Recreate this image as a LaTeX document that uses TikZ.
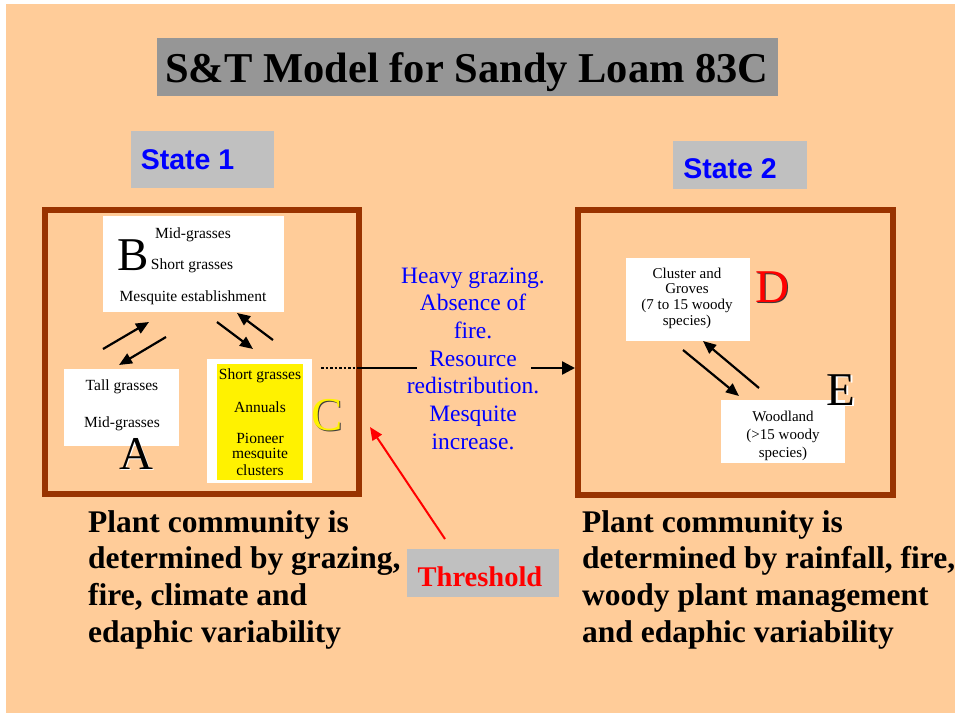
\documentclass[tikz,border=0pt]{standalone}
\usepackage{fontspec}
\setmainfont{Liberation Serif}
\newfontfamily\arialf{Liberation Sans}
\usetikzlibrary{arrows.meta}
\definecolor{peach}{RGB}{255,204,153}
\definecolor{framebrown}{RGB}{153,51,0}
\definecolor{titlegray}{RGB}{150,150,150}
\definecolor{boxgray}{RGB}{192,192,192}
\definecolor{shadowgray}{RGB}{60,60,60}
\newcommand{\myfs}[1]{\fontsize{#1}{#1}\selectfont}
\begin{document}
\begin{tikzpicture}[x=1pt,y=-1pt,
  txt/.style={inner sep=0pt, anchor=base},
  txtl/.style={inner sep=0pt, anchor=base west},
  wbox/.style={fill=white, inner sep=0pt},
  gbox/.style={fill=boxgray, inner sep=0pt},
  frm/.style={draw=framebrown, line width=6pt, inner sep=0pt},
  arr/.style={line width=2.2pt, -{Triangle[length=13pt,width=11pt]}},
  small/.style={font=\myfs{15.5}},
  smaller/.style={font=\myfs{15}},
  big/.style={font=\myfs{47}},
  blu/.style={font=\myfs{23.5}, text=blue},
  bottom/.style={font=\myfs{31.5}\bfseries},
]
\useasboundingbox (0,0) rectangle (955,713);
\fill[white] (0,0) rectangle (955,713);
\fill[peach] (6,4) rectangle (955,713);

% title
\node[fill=titlegray, minimum width=621pt, minimum height=58pt, inner sep=0pt] (titlebox) at (467.5,67) {};
\node[txt, font=\myfs{42.5}\bfseries] (title) at (467,82) {S\&T Model for Sandy Loam 83C};

% state labels
\node[gbox, minimum width=143pt, minimum height=57pt] (s1box) at (202.5,159.5) {};
\node[txt, font=\arialf\bfseries\myfs{28.5}, text=blue] (s1) at (187.5,169) {State 1};
\node[gbox, minimum width=134pt, minimum height=48pt] (s2box) at (740,165) {};
\node[txt, font=\arialf\bfseries\myfs{28.5}, text=blue] (s2) at (730,178) {State 2};

% frames
\node[frm, minimum width=314pt, minimum height=284pt] (f1) at (202,352) {};
\node[frm, minimum width=315pt, minimum height=285pt] (f2) at (735.5,352.5) {};

% B
\node[wbox, minimum width=181pt, minimum height=96pt] (Bbox) at (193.5,264) {};
\node[txt, small] (B1) at (193,238) {Mid-grasses};
\node[txt, small] (B2) at (192,269) {Short grasses};
\node[txt, small] (B3) at (193,301) {Mesquite establishment};
\node[txt, big] (Bl) at (133,270) {B};

% A
\node[wbox, minimum width=115pt, minimum height=77pt] (Abox) at (121.5,407.5) {};
\node[txt, small] (A1) at (122,390) {Tall grasses};
\node[txt, small] (A2) at (122,427) {Mid-grasses};
\node[txt, big, text=white] (Ash) at (137.5,470) {A};
\node[txt, big] (Al) at (136,469) {A};

% C
\node[wbox, minimum width=105pt, minimum height=124pt] (Cbox) at (259.5,421) {};
\node[fill=yellow, inner sep=0pt, minimum width=86pt, minimum height=114pt] (Cyel) at (260,421) {};
\node[txt, small] (C1) at (260,379) {Short grasses};
\node[txt, small] (C2) at (260,412) {Annuals};
\node[txt, small] (C3) at (260,443) {Pioneer};
\node[txt, small] (C4) at (260,458) {mesquite};
\node[anchor=base, small, fill=yellow, inner xsep=0pt, inner ysep=5pt, minimum width=86pt] (C5) at (260,475) {clusters};
\node[txt, big, text=shadowgray] (Csh) at (328.5,431.5) {C};
\node[txt, big, text=yellow] (Cl) at (327,430) {C};

% D
\node[wbox, minimum width=124pt, minimum height=83pt] (Dbox) at (688,299.5) {};
\node[txt, smaller] (D1) at (687,278) {Cluster and};
\node[txt, smaller] (D2) at (687,293.7) {Groves};
\node[txt, smaller] (D3) at (687,309.3) {(7 to 15 woody};
\node[txt, smaller] (D4) at (687,325) {species)};
\node[txt, big, text=shadowgray] (Dsh) at (773.5,303.5) {D};
\node[txt, big, text=red] (Dl) at (772,302) {D};

% E
\node[wbox, minimum width=124pt, minimum height=63pt] (Ebox) at (783,431.5) {};
\node[txt, smaller] (E1) at (783,421) {Woodland};
\node[txt, smaller] (E2) at (783,439) {(>15 woody};
\node[txt, smaller] (E3) at (783,457) {species)};
\node[txt, big, text=white] (Esh) at (842.5,406) {E};
\node[txt, big] (El) at (841,405) {E};

% transition text
\node[txt, blu] (T1) at (473,283) {Heavy grazing.};
\node[txt, blu] (T2) at (473,310.7) {Absence of};
\node[txt, blu] (T3) at (473,338.4) {fire.};
\node[txt, blu] (T4) at (473,366) {Resource};
\node[txt, blu] (T5) at (473,393.8) {redistribution.};
\node[txt, blu] (T6) at (473,421.5) {Mesquite};
\node[txt, blu] (T7) at (473,449.2) {increase.};

% threshold
\node[gbox, minimum width=152pt, minimum height=48pt] (thbox) at (483,573) {};
\node[txt, font=\myfs{28.5}\bfseries, text=red] (th) at (480,586) {Threshold};

% bottom texts
\node[txtl, bottom] (L1) at (88,532) {Plant community is};
\node[txtl, bottom] (L2) at (88,568.7) {determined by grazing,};
\node[txtl, bottom] (L3) at (88,605.4) {fire, climate and};
\node[txtl, bottom] (L4) at (88,642) {edaphic variability};
\node[txtl, bottom] (R1) at (582,532) {Plant community is};
\node[txtl, bottom] (R2) at (582,568.7) {determined by rainfall, fire,};
\node[txtl, bottom] (R3) at (582,605.4) {woody plant management};
\node[txtl, bottom] (R4) at (582,642) {and edaphic variability};

% connector coordinates
\coordinate (ab0) at (103,349); \coordinate (ab1) at (149,322);
\coordinate (ba0) at (166,337); \coordinate (ba1) at (119,365);
\coordinate (bc0) at (217,322); \coordinate (bc1) at (253,349);
\coordinate (cb0) at (273,340); \coordinate (cb1) at (237,313);
\coordinate (de0) at (683,350); \coordinate (de1) at (739,396);
\coordinate (ed0) at (759,388); \coordinate (ed1) at (703,341);
\coordinate (th0) at (445,539); \coordinate (th1) at (370,427);
\coordinate (m0) at (321,368); \coordinate (m1) at (358,368);
\coordinate (m2) at (417,368); \coordinate (m3) at (531,368);

\draw[arr] (ab0) -- (ab1);
\draw[arr] (ba0) -- (ba1);
\draw[arr] (bc0) -- (bc1);
\draw[arr] (cb0) -- (cb1);
\draw[arr] (de0) -- (de1);
\draw[arr] (ed0) -- (ed1);
\draw[red, line width=2pt, -{Triangle[length=13pt,width=11pt]}] (th0) -- (th1);

\draw[line width=2.5pt, dash pattern=on 2.5pt off 2pt] (m0) -- (m1);
\draw[line width=2.5pt] (m1) -- (m2);
\draw[line width=2.5pt, -{Triangle[length=13pt,width=13pt]}] (m3) -- (m3 -| f2.west);
\end{tikzpicture}
\end{document}
